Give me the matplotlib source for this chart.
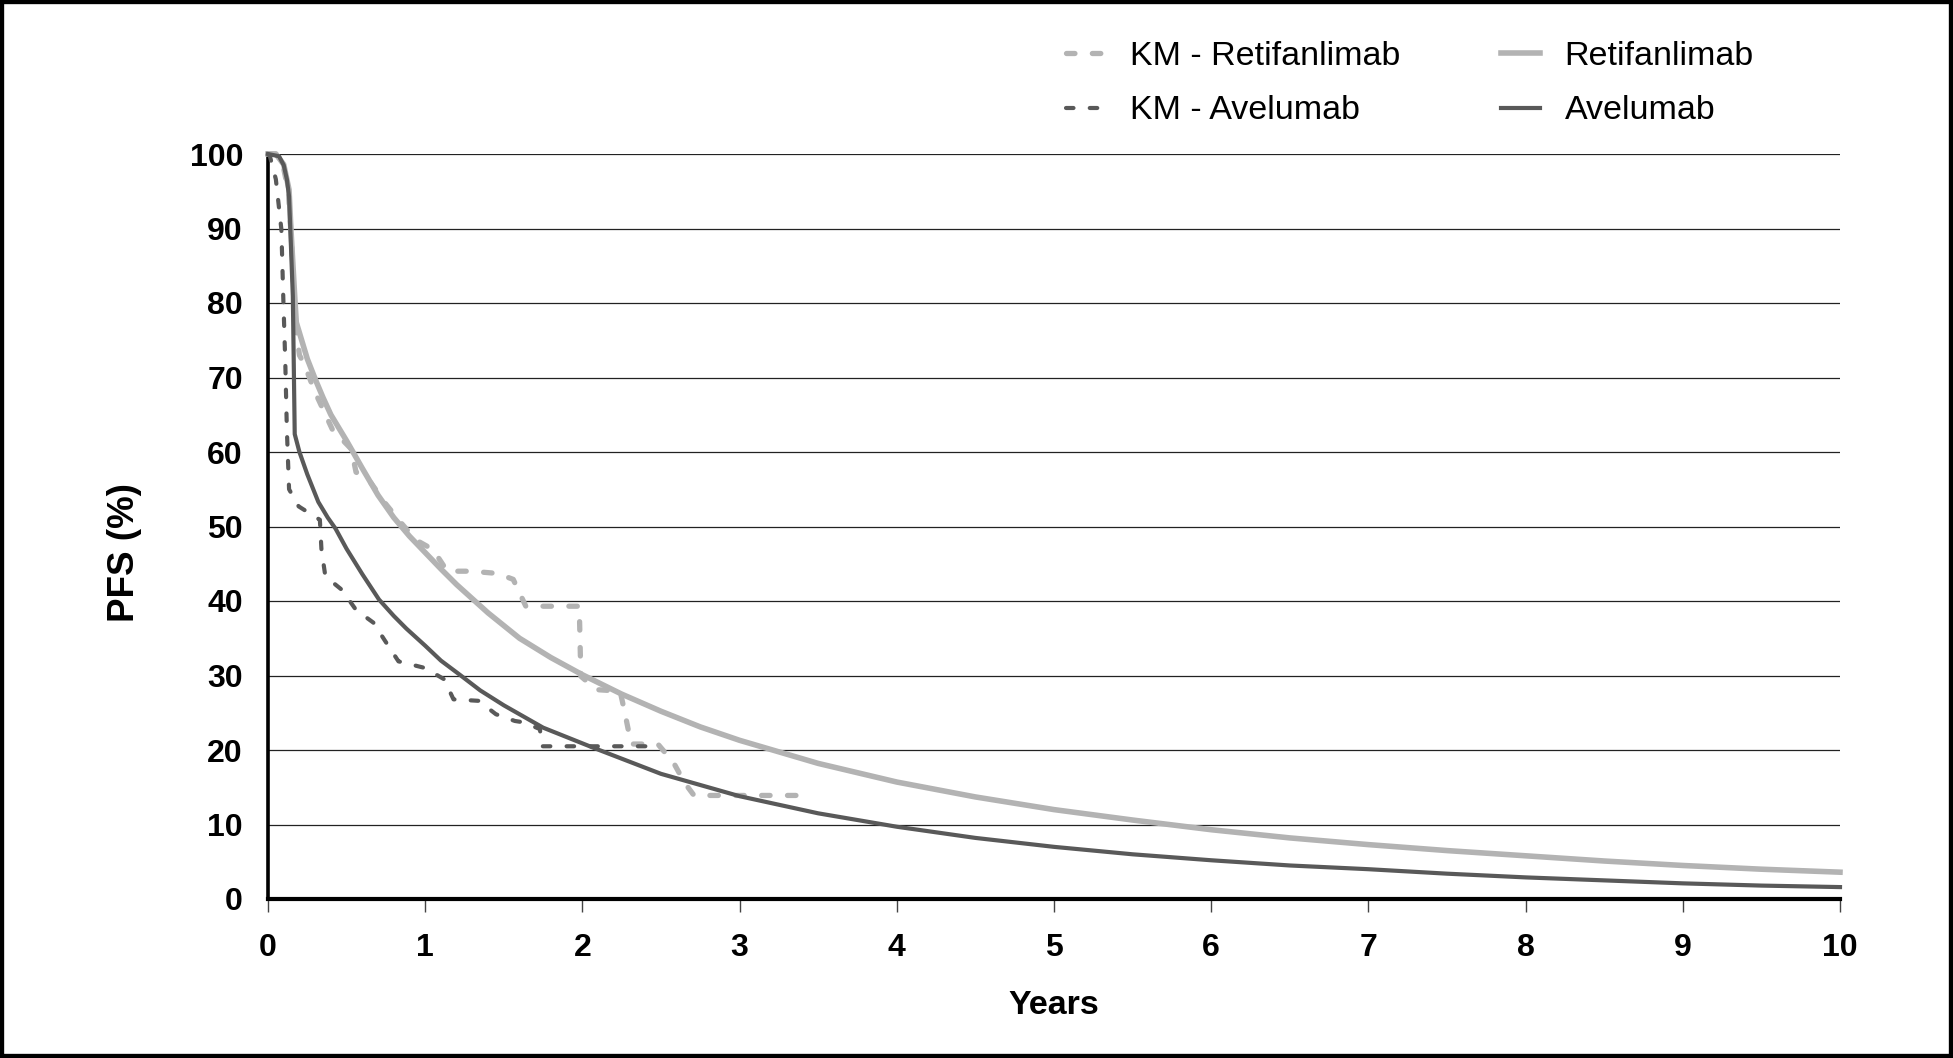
import matplotlib.pyplot as plt
from matplotlib.patches import Rectangle

plt.rcParams['font.family'] = ['Liberation Sans', 'DejaVu Sans']

light = "#b3b3b3"
dark = "#595959"

# fitted curves
retif_x = [0, 0.05, 0.1, 0.134, 0.146, 0.17, 0.18, 0.22, 0.25, 0.3, 0.35, 0.4, 0.5, 0.6, 0.7, 0.8,
           0.9, 1.0, 1.1, 1.2, 1.4, 1.6, 1.8, 2.0, 2.25, 2.5, 2.75, 3.0, 3.5, 4, 4.5, 5, 5.5, 6,
           6.5, 7, 7.5, 8, 8.5, 9, 9.5, 10]
retif_y = [100, 100, 98.6, 95.2, 89.9, 80.9, 77.4, 74.6, 72.5, 69.8, 67.3, 65.0, 61.5, 57.8, 54.2, 51.2,
           48.7, 46.5, 44.3, 42.2, 38.4, 35.0, 32.4, 30.1, 27.5, 25.2, 23.1, 21.3, 18.2, 15.7, 13.7, 12.0, 10.6, 9.3,
           8.2, 7.3, 6.5, 5.8, 5.1, 4.5, 4.0, 3.6]

avel_x = [0, 0.07, 0.1, 0.12, 0.134, 0.146, 0.158, 0.17, 0.2, 0.25, 0.32, 0.38, 0.43, 0.5, 0.6,
          0.706, 0.8, 0.88, 1.0, 1.1, 1.22, 1.35, 1.5, 1.75, 2.07, 2.5, 3.0, 3.5, 4, 4.5, 5, 5.5,
          6, 6.5, 7, 7.5, 8, 8.5, 9, 9.5, 10]
avel_y = [100, 99.7, 98.5, 96.6, 94.3, 87.6, 80.9, 62.4, 60.0, 57.0, 53.3, 51.2, 49.7, 47.0, 43.6,
          40.2, 38.0, 36.3, 34.0, 32.0, 30.1, 28.0, 26.0, 23.0, 20.3, 16.8, 13.8, 11.5, 9.7, 8.2, 7.0, 6.0,
          5.2, 4.5, 4.0, 3.4, 2.9, 2.5, 2.1, 1.8, 1.6]

# Kaplan-Meier curves
km_retif_x = [0, 0.05, 0.1, 0.13, 0.15, 0.17, 0.2, 0.23, 0.3, 0.41, 0.53, 0.56, 0.65, 0.75, 0.85,
              0.94, 1.05, 1.14, 1.29, 1.46, 1.56, 1.64, 1.98, 1.99, 2.09, 2.24, 2.27, 2.31, 2.48,
              2.58, 2.65, 2.71, 3.38]
km_retif_y = [100, 100, 98, 95, 88, 78, 73, 71.8, 68, 63, 60.4, 57.3, 56, 53, 50.4,
              48.2, 46.9, 44, 44, 43.7, 42.9, 39.3, 39.3, 29.9, 28.1, 27.9, 25, 20.8, 20.8,
              18.3, 15.6, 13.9, 13.9]

km_avel_x = [0, 0.012, 0.05, 0.085, 0.097, 0.11, 0.12, 0.134, 0.195, 0.33, 0.34, 0.365, 0.47,
             0.56, 0.67, 0.74, 0.83, 1.0, 1.12, 1.18, 1.34, 1.45, 1.57, 1.63, 1.73, 1.74, 2.43]
km_avel_y = [100, 99.7, 96.6, 89.9, 80.9, 72, 63, 55, 52.7, 50.9, 46.9, 43.3, 41.5,
             38.8, 37.1, 34.8, 31.9, 31.0, 29.5, 26.8, 26.6, 24.8, 23.9, 23.7, 22.8, 20.5, 20.5]

fig = plt.figure(figsize=(19.53, 10.58), dpi=100)
ax = fig.add_axes([268/1953, 1-899/1058, (1840-268)/1953, (899-154)/1058])

for y in range(10, 101, 10):
    ax.axhline(y, color="#222222", lw=0.9, zorder=1)

l1, = ax.plot(km_retif_x, km_retif_y, color=light, lw=3.8, dashes=(1.6, 3.3),
              dash_capstyle='round', clip_on=False, zorder=3)
l2, = ax.plot(km_avel_x, km_avel_y, color=dark, lw=3.0, dashes=(1.8, 3.9),
              dash_capstyle='round', clip_on=False, zorder=4)
l3, = ax.plot(retif_x, retif_y, color=light, lw=4.0, clip_on=False, zorder=3)
l4, = ax.plot(avel_x, avel_y, color=dark, lw=3.0, clip_on=False, zorder=4)

ax.set_xlim(0, 10)
ax.set_ylim(0, 100)
ax.set_xticks(range(0, 11))
ax.set_yticks(range(0, 101, 10))
for s in ["top", "right"]:
    ax.spines[s].set_visible(False)
ax.spines["left"].set_linewidth(2.6)
ax.spines["bottom"].set_linewidth(3.0)
ax.tick_params(axis="y", length=0, pad=18, labelsize=23)
ax.tick_params(axis="x", length=9.5, width=1.0, color="#444444", direction="out", pad=15, labelsize=23)
for lab in ax.get_xticklabels() + ax.get_yticklabels():
    lab.set_fontweight("bold")

fig.text(125/1953, 1-553/1058, "PFS (%)", rotation=90, ha="center", va="center",
         fontsize=26.5, fontweight="bold")
fig.text(1054/1953, 1-1006/1058, "Years", ha="center", va="center",
         fontsize=24.5, fontweight="bold")

fig.legend([l1, l2, l3, l4], ["KM - Retifanlimab", "KM - Avelumab", "Retifanlimab", "Avelumab"],
           ncol=2, loc="upper left", bbox_to_anchor=(1066/1953, 1-41/1058), frameon=False,
           fontsize=24.5, handlelength=1.15, handletextpad=0.73, columnspacing=2.95,
           labelspacing=0.69, borderpad=0, borderaxespad=0)

fig.patches.append(Rectangle((0, 0), 1, 1, transform=fig.transFigure, fill=False,
                             edgecolor="black", lw=6))

fig.savefig("out.png", dpi=100)
